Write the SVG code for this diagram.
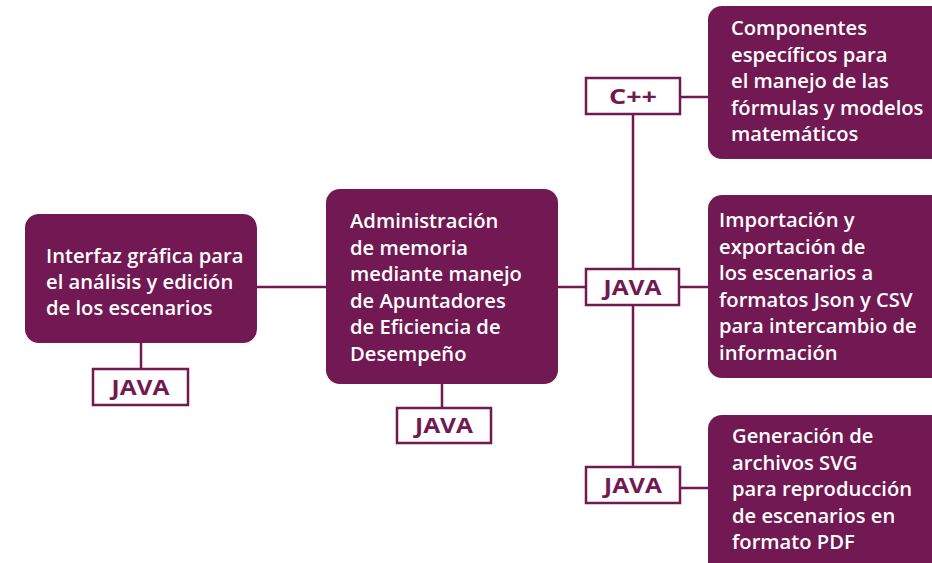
<svg xmlns="http://www.w3.org/2000/svg" width="932" height="563" viewBox="0 0 932 563">
<style>
.box{fill:#721852}
.tag{fill:#ffffff;stroke:#721852;stroke-width:2.5}
.t{font-family:"Open Sans",Lato,"Liberation Sans",sans-serif;font-weight:600;font-size:20.2px;fill:#ffffff}
.lt{font-family:"Open Sans",Lato,"Liberation Sans",sans-serif;font-weight:700;font-size:21px;fill:#721852;text-anchor:middle}
.c{stroke:#721852;stroke-width:2.5;fill:none}
</style>
<rect width="932" height="563" fill="#ffffff"/>
<g id="connectors">
<line class="c" x1="257" y1="287" x2="326" y2="287"/>
<line class="c" x1="141" y1="343" x2="141" y2="369"/>
<line class="c" x1="442" y1="384" x2="442" y2="408"/>
<line class="c" x1="558" y1="287" x2="586" y2="287"/>
<line class="c" x1="633" y1="114" x2="633" y2="467"/>
<line class="c" x1="680" y1="97" x2="708" y2="97"/>
<line class="c" x1="680" y1="287" x2="708" y2="287"/>
<line class="c" x1="680" y1="488" x2="708" y2="488"/>
</g>
<g id="interfaz">
<rect class="box" x="25" y="214" width="232" height="129" rx="14"/>
<text class="t" x="46"><tspan x="46" y="263">Interfaz gráfica para</tspan><tspan x="46" y="289">el análisis y edición</tspan><tspan x="46" y="315">de los escenarios</tspan></text>
</g>
<g id="java1">
<rect class="tag" x="93" y="369" width="95" height="36"/>
<text class="lt" x="140.5" y="395" textLength="58" lengthAdjust="spacingAndGlyphs">JAVA</text>
</g>
<g id="memoria">
<rect class="box" x="326" y="189" width="232" height="195" rx="14"/>
<text class="t"><tspan x="350" y="228">Administración</tspan><tspan x="350" y="254.5">de memoria</tspan><tspan x="350" y="281">mediante manejo</tspan><tspan x="350" y="307.5">de Apuntadores</tspan><tspan x="350" y="334">de Eficiencia de</tspan><tspan x="350" y="360.5">Desempeño</tspan></text>
</g>
<g id="java2">
<rect class="tag" x="397" y="408" width="94" height="35"/>
<text class="lt" x="444" y="433" textLength="58" lengthAdjust="spacingAndGlyphs">JAVA</text>
</g>
<g id="cpp">
<rect class="tag" x="586" y="78" width="94" height="36"/>
<text class="lt" x="633" y="104" textLength="48" lengthAdjust="spacingAndGlyphs">C++</text>
</g>
<g id="java3">
<rect class="tag" x="586" y="269" width="93" height="36"/>
<text class="lt" x="632.5" y="295" textLength="58" lengthAdjust="spacingAndGlyphs">JAVA</text>
</g>
<g id="java4">
<rect class="tag" x="586" y="467" width="94" height="36"/>
<text class="lt" x="633" y="493" textLength="58" lengthAdjust="spacingAndGlyphs">JAVA</text>
</g>
<g id="componentes">
<rect class="box" x="708" y="6" width="240" height="153" rx="14"/>
<text class="t"><tspan x="731" y="35">Componentes</tspan><tspan x="731" y="61.5">específicos para</tspan><tspan x="731" y="88">el manejo de las</tspan><tspan x="731" y="114.5">fórmulas y modelos</tspan><tspan x="731" y="141">matemáticos</tspan></text>
</g>
<g id="importacion">
<rect class="box" x="708" y="195" width="240" height="183" rx="14"/>
<text class="t"><tspan x="719" y="227">Importación y</tspan><tspan x="719" y="253.5">exportación de</tspan><tspan x="719" y="280">los escenarios a</tspan><tspan x="719" y="306.5">formatos Json y CSV</tspan><tspan x="719" y="333">para intercambio de</tspan><tspan x="719" y="359.5">información</tspan></text>
</g>
<g id="generacion">
<rect class="box" x="708" y="415" width="240" height="170" rx="14"/>
<text class="t"><tspan x="732" y="443">Generación de</tspan><tspan x="732" y="469.5">archivos SVG</tspan><tspan x="732" y="496">para reproducción</tspan><tspan x="732" y="522.5">de escenarios en</tspan><tspan x="732" y="549">formato PDF</tspan></text>
</g>
</svg>
